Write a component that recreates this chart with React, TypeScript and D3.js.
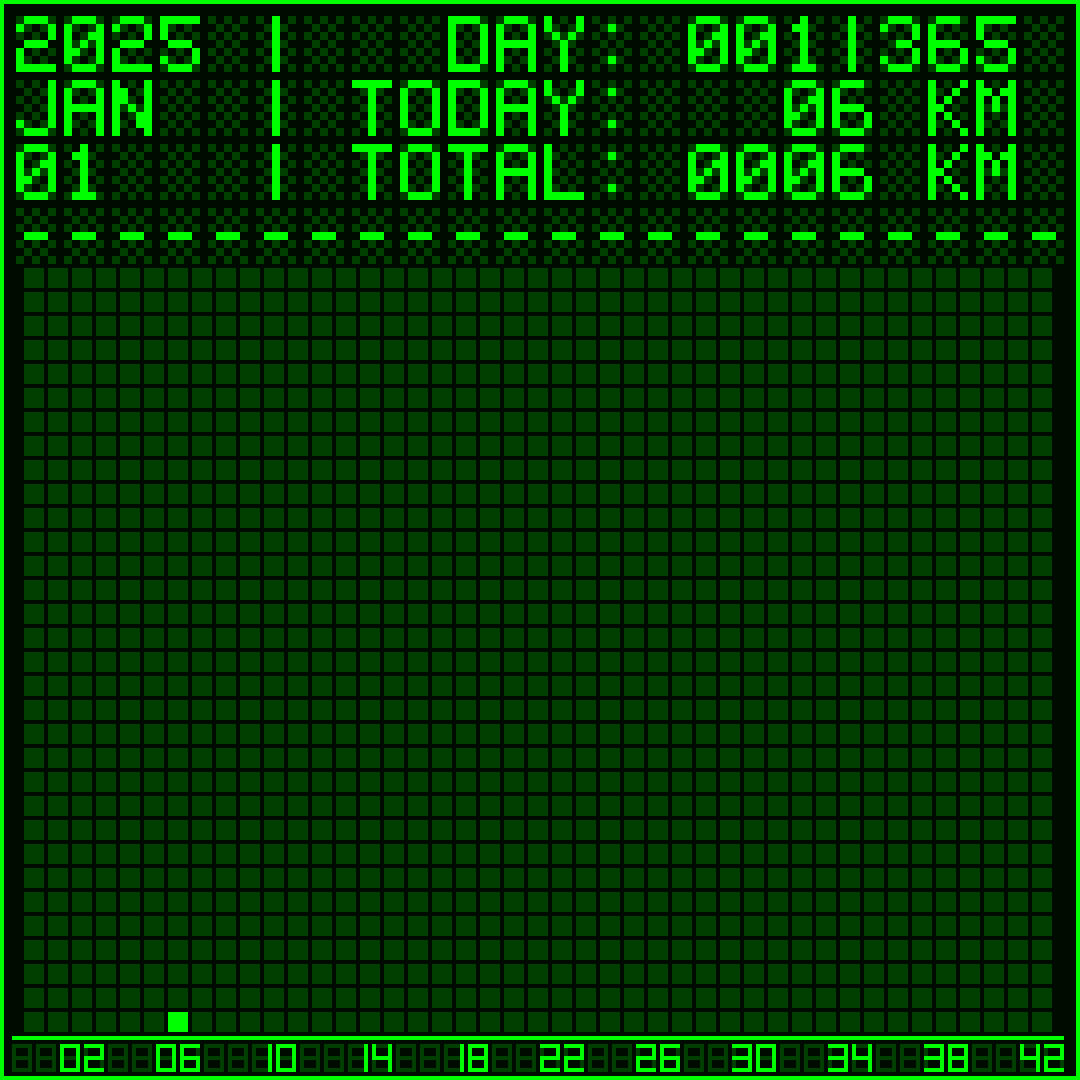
import React from 'react';
import * as d3 from 'd3';

// ---------- data ----------
const YEAR = 2025;
const MONTH = 'JAN';
const DAY_OF_MONTH = 1;
const DAY_OF_YEAR = 1;
const DAYS_IN_YEAR = 365;
const dailyKm = [6]; // km logged per day so far
const kmBins = d3.range(0, 43); // x categories: 0..42 km
const dayRows = d3.range(0, 32); // y: number of days (stack height)
const tickKm = [2, 6, 10, 14, 18, 22, 26, 30, 34, 38, 42];

// ---------- style ----------
const W = 1080;
const H = 1080;
const BG = '#000b00';
const DIM = '#003f00';
const LIT = '#00ff00';
const PX = 8; // header dot size

const FONT: Record<string, string[]> = {
  ' ': ['00000', '00000', '00000', '00000', '00000', '00000', '00000'],
  '0': ['01110', '10001', '10011', '10101', '11001', '10001', '01110'],
  '1': ['00100', '01100', '00100', '00100', '00100', '00100', '01110'],
  '2': ['01110', '10001', '00001', '01110', '10000', '10000', '11111'],
  '3': ['01110', '10001', '00001', '00110', '00001', '10001', '01110'],
  '4': ['00010', '00110', '01010', '10010', '11111', '00010', '00010'],
  '5': ['11111', '10000', '10000', '01110', '00001', '10001', '01110'],
  '6': ['01110', '10000', '10000', '11110', '10001', '10001', '01110'],
  '7': ['11111', '00001', '00010', '00100', '01000', '01000', '01000'],
  '8': ['01110', '10001', '10001', '01110', '10001', '10001', '01110'],
  '9': ['01110', '10001', '10001', '01111', '00001', '00001', '01110'],
  A: ['01110', '10001', '10001', '11111', '10001', '10001', '10001'],
  D: ['11110', '10001', '10001', '10001', '10001', '10001', '11110'],
  Y: ['10001', '10001', '01010', '00100', '00100', '00100', '00100'],
  J: ['00001', '00001', '00001', '00001', '00001', '10001', '01110'],
  N: ['10001', '11001', '11001', '10101', '10011', '10011', '10001'],
  T: ['11111', '00100', '00100', '00100', '00100', '00100', '00100'],
  O: ['01110', '10001', '10001', '10001', '10001', '10001', '01110'],
  K: ['10001', '10010', '10100', '11000', '10100', '10010', '10001'],
  M: ['10001', '11011', '10101', '10101', '10001', '10001', '10001'],
  L: ['10000', '10000', '10000', '10000', '10000', '10000', '11111'],
  ':': ['00000', '00100', '00000', '00000', '00000', '00100', '00000'],
  '|': ['00100', '00100', '00100', '00100', '00100', '00100', '00100'],
  '-': ['00000', '00000', '00000', '01110', '00000', '00000', '00000'],
};

// 7-segment (with filled corners) in a 20x28 cell
const SEG: Record<string, [number, number, number, number]> = {
  a: [0, 0, 20, 4],
  b: [16, 0, 4, 16],
  c: [16, 12, 4, 16],
  d: [0, 24, 20, 4],
  e: [0, 12, 4, 16],
  f: [0, 0, 4, 16],
  g: [0, 12, 20, 4],
};
const DIGIT_SEGS = ['abcdef', 'bc', 'abdeg', 'abcdg', 'bcfg', 'acdfg', 'acdefg', 'abc', 'abcdefg', 'abcdfg'];

const pad = (n: number, w: number) => String(n).padStart(w, '0');

export default function App() {
  const totalKm = d3.sum(dailyKm);
  const todayKm = dailyKm[dailyKm.length - 1];

  const lines = [
    `${YEAR} |   DAY: ${pad(DAY_OF_YEAR, 3)}|${DAYS_IN_YEAR} `,
    `${MONTH}  | TODAY: ${pad(todayKm, 2).padStart(4, ' ')} KM `,
    `${pad(DAY_OF_MONTH, 2)}   | TOTAL: ${pad(totalKm, 4)} KM `,
    '-'.repeat(22),
  ];

  // header character grid scales
  const charX = d3.scaleLinear().domain([0, 1]).range([16, 16 + 6 * PX]);
  const lineY = d3.scaleLinear().domain([0, 1]).range([16, 16 + 8 * PX]);

  const headerRects: React.ReactNode[] = [];
  lines.forEach((line, li) => {
    Array.from(line).forEach((ch, ci) => {
      const g = FONT[ch] || FONT[' '];
      for (let r = 0; r < 7; r++) {
        for (let c = 0; c < 5; c++) {
          const on = g[r][c] === '1';
          const dim = (r + c) % 2 === 0;
          if (!on && !dim) continue;
          headerRects.push(
            <rect
              key={`h${li}-${ci}-${r}-${c}`}
              x={charX(ci) + c * PX}
              y={lineY(li) + r * PX}
              width={PX}
              height={PX}
              fill={on ? LIT : DIM}
            />
          );
        }
      }
    });
  });

  // histogram of daily km
  const counts = d3.rollup(dailyKm, (v) => v.length, (d) => Math.round(d));

  const x = d3.scaleBand<number>().domain(kmBins).range([24, 1052]).paddingInner(1 / 6).paddingOuter(0);
  const y = d3.scaleBand<number>().domain(dayRows).range([1032, 268]).paddingInner(1 / 6).paddingOuter(0);

  const cells: React.ReactNode[] = [];
  kmBins.forEach((k) => {
    const n = counts.get(k) || 0;
    dayRows.forEach((r) => {
      cells.push(
        <rect
          key={`c${k}-${r}`}
          x={x(k)}
          y={y(r)}
          width={x.bandwidth()}
          height={y.bandwidth()}
          fill={r < n ? LIT : DIM}
        />
      );
    });
  });

  // bottom axis: 7-seg digit cells at half-step offset
  const step = x.step();
  const digitY = 1044;
  const nDigitCells = kmBins.length + 1;
  const digitX0 = (x(kmBins[0]) as number) - step / 2;
  const digitRects: React.ReactNode[] = [];
  for (let i = 0; i < nDigitCells; i++) {
    const dx = digitX0 + i * step;
    Object.keys(SEG).forEach((s) => {
      const [sx, sy, sw, sh] = SEG[s];
      digitRects.push(<rect key={`d${i}${s}`} x={dx + sx} y={digitY + sy} width={sw} height={sh} fill={DIM} />);
    });
  }
  tickKm.forEach((t) => {
    const cx = (x(t) as number) + x.bandwidth() / 2;
    const label = pad(t, 2);
    Array.from(label).forEach((ch, j) => {
      const dx = cx - 22 + j * step;
      Array.from(DIGIT_SEGS[+ch]).forEach((s) => {
        const [sx, sy, sw, sh] = SEG[s];
        digitRects.push(
          <rect key={`t${t}-${j}-${s}`} x={dx + sx} y={digitY + sy} width={sw} height={sh} fill={LIT} />
        );
      });
    });
  });

  return (
    <svg
      width={W}
      height={H}
      viewBox={`0 0 ${W} ${H}`}
      style={{ position: 'absolute', left: 0, top: 0, display: 'block' }}
      shapeRendering="crispEdges"
    >
      <rect x={0} y={0} width={W} height={H} fill={BG} />
      <g>{headerRects}</g>
      {lines.map((l, i) => (
        <text
          key={`txt${i}`}
          x={16}
          y={lineY(i) + 7 * PX}
          fontFamily="DejaVu Sans Mono"
          fontSize={56}
          textLength={22 * 6 * PX - PX}
          lengthAdjust="spacingAndGlyphs"
          fill="none"
          opacity={0}
        >
          {l}
        </text>
      ))}
      <g>{cells}</g>
      <rect x={12} y={1036} width={1052} height={4} fill={LIT} />
      <g>{digitRects}</g>
      {tickKm.map((t) => (
        <text
          key={`tl${t}`}
          x={(x(t) as number) + x.bandwidth() / 2}
          y={1072}
          textAnchor="middle"
          fontFamily="DejaVu Sans Mono"
          fontSize={28}
          fill="none"
          opacity={0}
        >
          {pad(t, 2)}
        </text>
      ))}
      <rect x={2} y={2} width={W - 4} height={H - 4} fill="none" stroke={LIT} strokeWidth={4} />
    </svg>
  );
}
